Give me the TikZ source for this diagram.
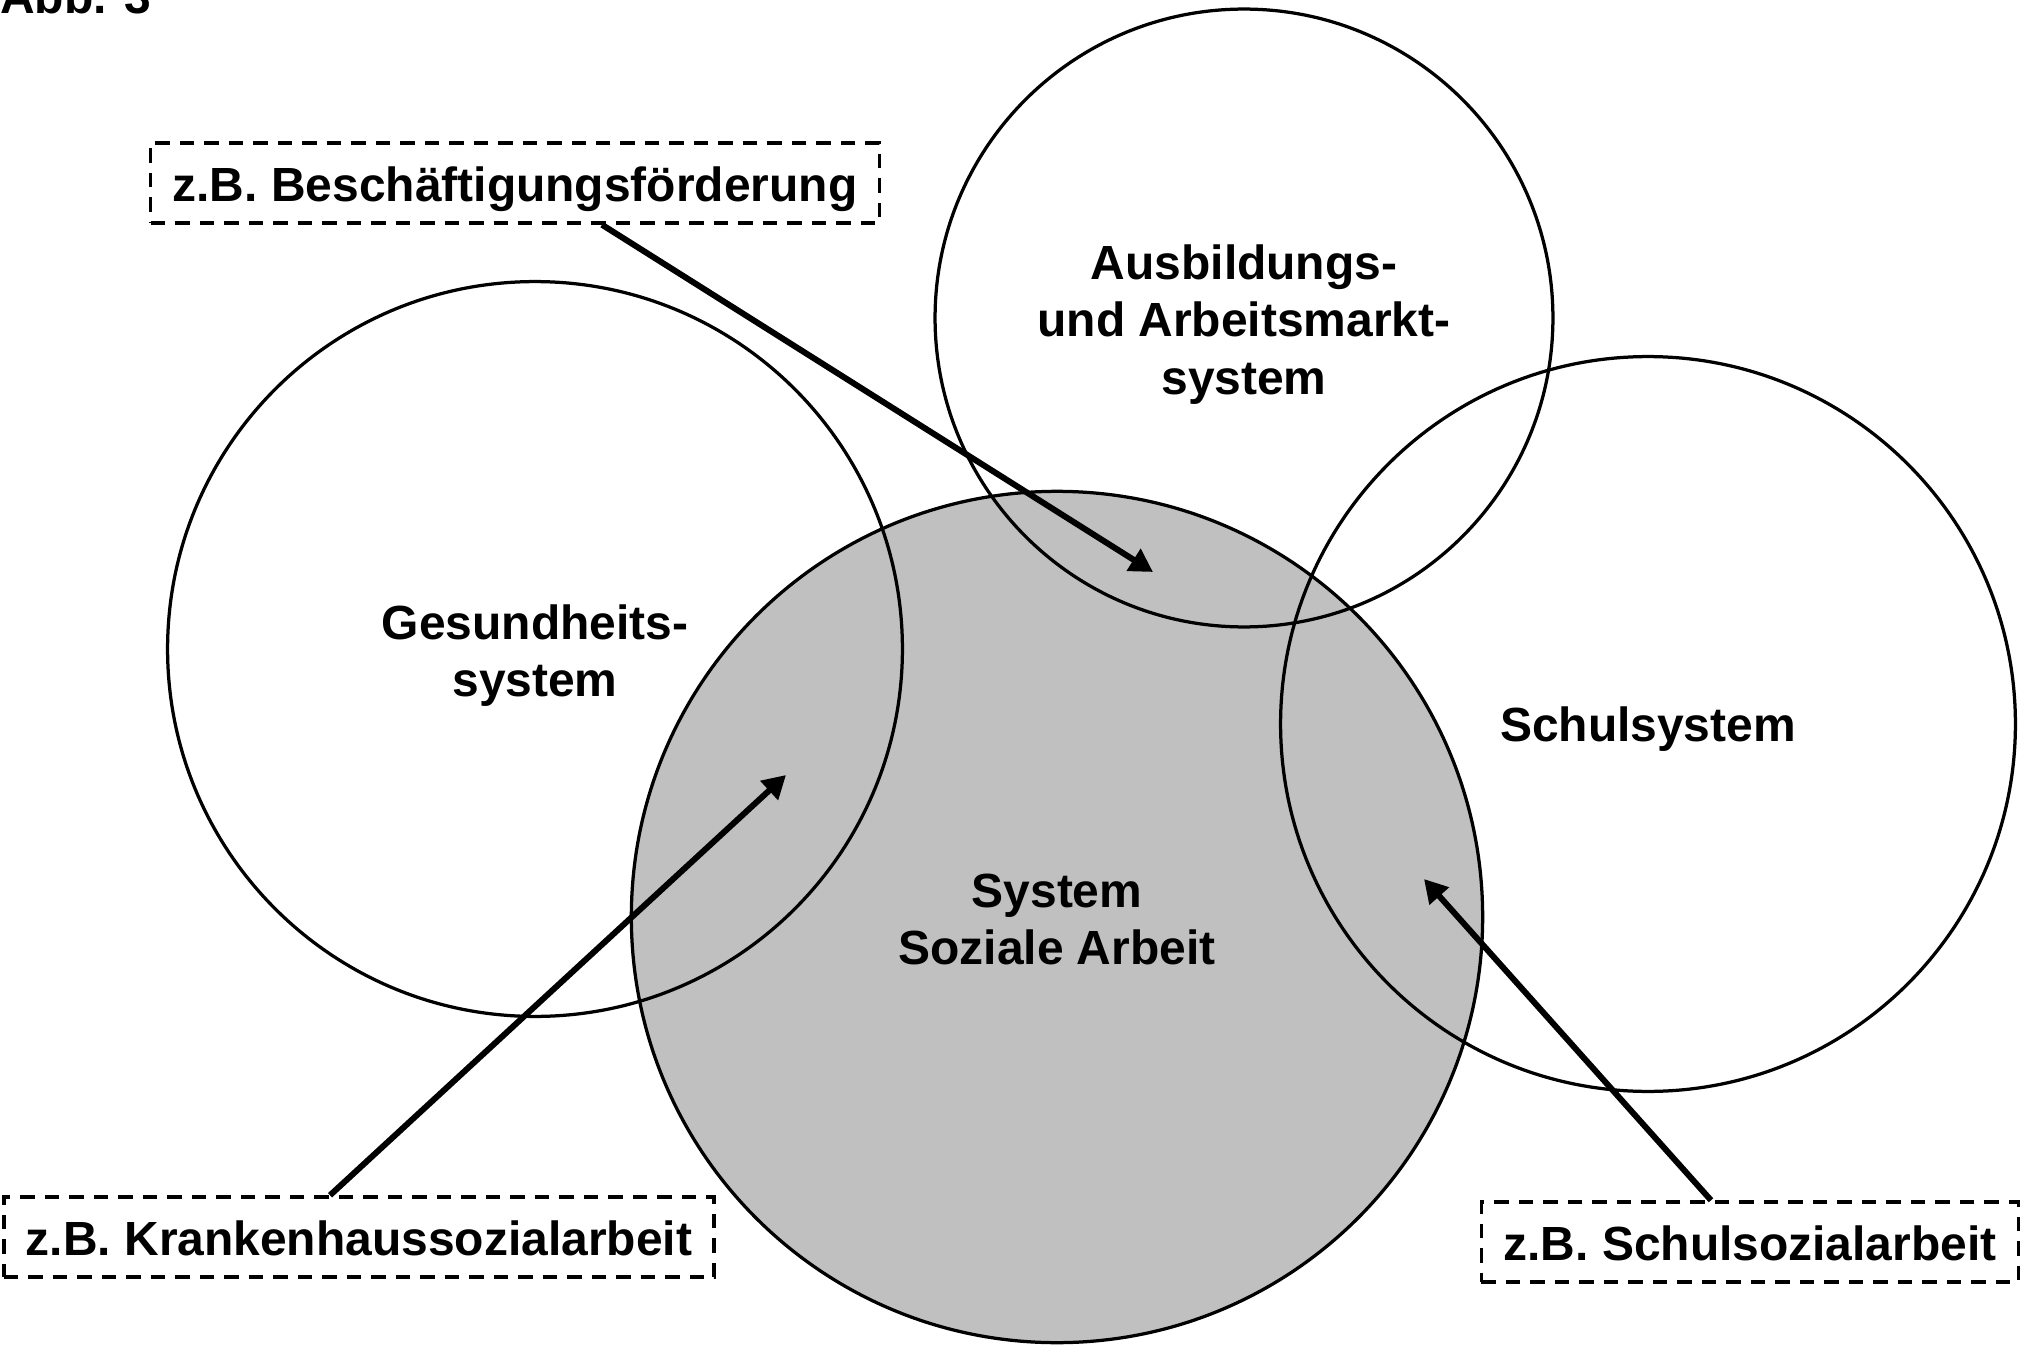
\documentclass[tikz,border=0pt]{standalone}
\usepackage{fontspec}
\setmainfont{Liberation Sans}
\usetikzlibrary{arrows.meta}

\definecolor{grau}{RGB}{192,192,192}
\newcommand{\schrift}{\fontsize{27.3}{32.7}\selectfont\bfseries}

\tikzset{
  kreis/.style={circle,draw,line width=0.065cm,inner sep=0pt},
  titel/.style={align=center,inner sep=0pt},
  beispiel/.style={draw,line width=0.07cm,dash pattern=on 0.29cm off 0.2cm,minimum height=1.6cm,inner xsep=0.44cm,inner ysep=0.1cm,text height=27.3pt,text depth=5.7pt},
  pfeil/.style={-{Triangle[length=0.46cm,width=0.5cm]},line width=0.12cm}
}

\begin{document}
\begin{tikzpicture}[x=0.02cm,y=-0.02cm,every node/.style={font=\schrift}]
      \useasboundingbox (0,0) rectangle (2023,1345);

      % Kreise
      \node[kreis,fill=grau,minimum size=17.03cm] (sa) at (1057,917) {};
      \node[kreis,minimum size=14.7cm] (ges) at (535,649) {};
      \node[kreis,minimum size=12.36cm] (aus) at (1244,318) {};
      \node[kreis,minimum size=14.7cm] (schul) at (1648,724) {};

      \node[titel] (satext) at ([yshift=-0.05cm]sa.center) {System\\Soziale Arbeit};
      \node[titel] (gestext) at ([yshift=-0.13cm]ges.center) {Gesundheits-\\system};
      \node[titel] (austext) at ([yshift=-0.13cm]aus.center) {Ausbildungs-\\und Arbeitsmarkt-\\system};
      \node[titel] (schultext) at ([yshift=-0.1cm]schul.center) {Schulsystem};

      % Beispiele
      \node[beispiel] (besch) at (515,183) {z.B. Besch\"aftigungsf\"orderung};
      \node[beispiel] (kranken) at (359,1237) {z.B. Krankenhaussozialarbeit};
      \node[beispiel] (schulsa) at (1750,1242) {z.B. Schulsozialarbeit};

      \node[anchor=base west,inner sep=0pt] (abb) at (0,14) {Abb. 3};

      \coordinate (spitze1) at (1153,572);
      \coordinate (spitze2) at (786,775);
      \coordinate (spitze3) at (1424,879);

      \draw[pfeil] ([xshift=1.74cm]besch.south) -- (spitze1);
      \draw[pfeil] ([xshift=-0.58cm]kranken.north) -- (spitze2);
      \draw[pfeil] ([xshift=-0.78cm]schulsa.north) -- (spitze3);
    \end{tikzpicture}
\end{document}
